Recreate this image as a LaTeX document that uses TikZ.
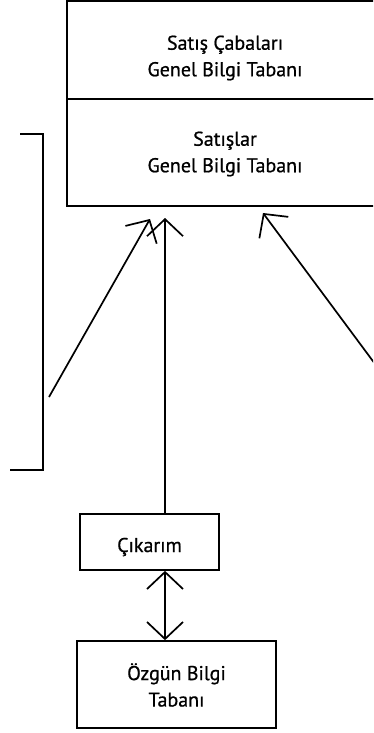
\documentclass[tikz,border=0pt]{standalone}
\usepackage{fontspec}
\setmainfont{PT Sans}[FakeBold=0.7]
\usetikzlibrary{arrows.meta}
\begin{document}
\begin{tikzpicture}[x=1pt,y=-1pt,
  every node/.style={font=\fontsize{20}{26.5}\selectfont, align=center, inner sep=0pt},
  boxx/.style={draw, line width=1.7pt, rectangle},
  conn/.style={line width=1.7pt},
  tip/.style={-{Straight Barb[length=17pt,width=36pt,line width=1.7pt]}},
  dtip/.style={{Straight Barb[length=17pt,width=36pt,line width=1.7pt]}-{Straight Barb[length=17pt,width=36pt,line width=1.7pt]}}]
\useasboundingbox (0,0) rectangle (373,733);
\clip (0,0) rectangle (373,733);
% big knowledge base boxes (run past the right edge)
\node[boxx, minimum width=320pt, minimum height=98pt] (cab) at (227,50) {};
\node[boxx, minimum width=320pt, minimum height=107pt] (sat) at (227,152.5) {};
\node (cabt) at (225,58) {Satış Çabaları\\Genel Bilgi Tabanı};
\node (satt) at (225,154) {Satışlar\\Genel Bilgi Tabanı};
% lower boxes
\node[boxx, minimum width=139pt, minimum height=56pt] (cik) at (149.5,542) {};
\node (cikt) at (149.5,547) {Çıkarım};
\node[boxx, minimum width=199pt, minimum height=87pt] (oz) at (176.5,684.5) {};
\node (ozt) at (176.5,685) {Özgün Bilgi\\Tabanı};
% coordinates
\coordinate (vx) at (165,0);
\coordinate (vt) at (165,218);
\coordinate (la) at (49,397);
\coordinate (lt) at (150,219);
\coordinate (ra) at (381,372);
\coordinate (rt) at (263,213);
\coordinate (b1) at (20,134);
\coordinate (b2) at (43,134);
\coordinate (b3) at (43,470);
\coordinate (b4) at (10,470);
% connectors
\draw[conn, tip] (cik.north -| vx) -- (vt);
\draw[conn, tip] (la) -- (lt);
\draw[conn, tip] (ra) -- (rt);
\draw[conn, dtip] (cik.south -| vx) -- (oz.north -| vx);
\draw[conn] (b1) -- (b2) -- (b3) -- (b4);
\end{tikzpicture}
\end{document}
